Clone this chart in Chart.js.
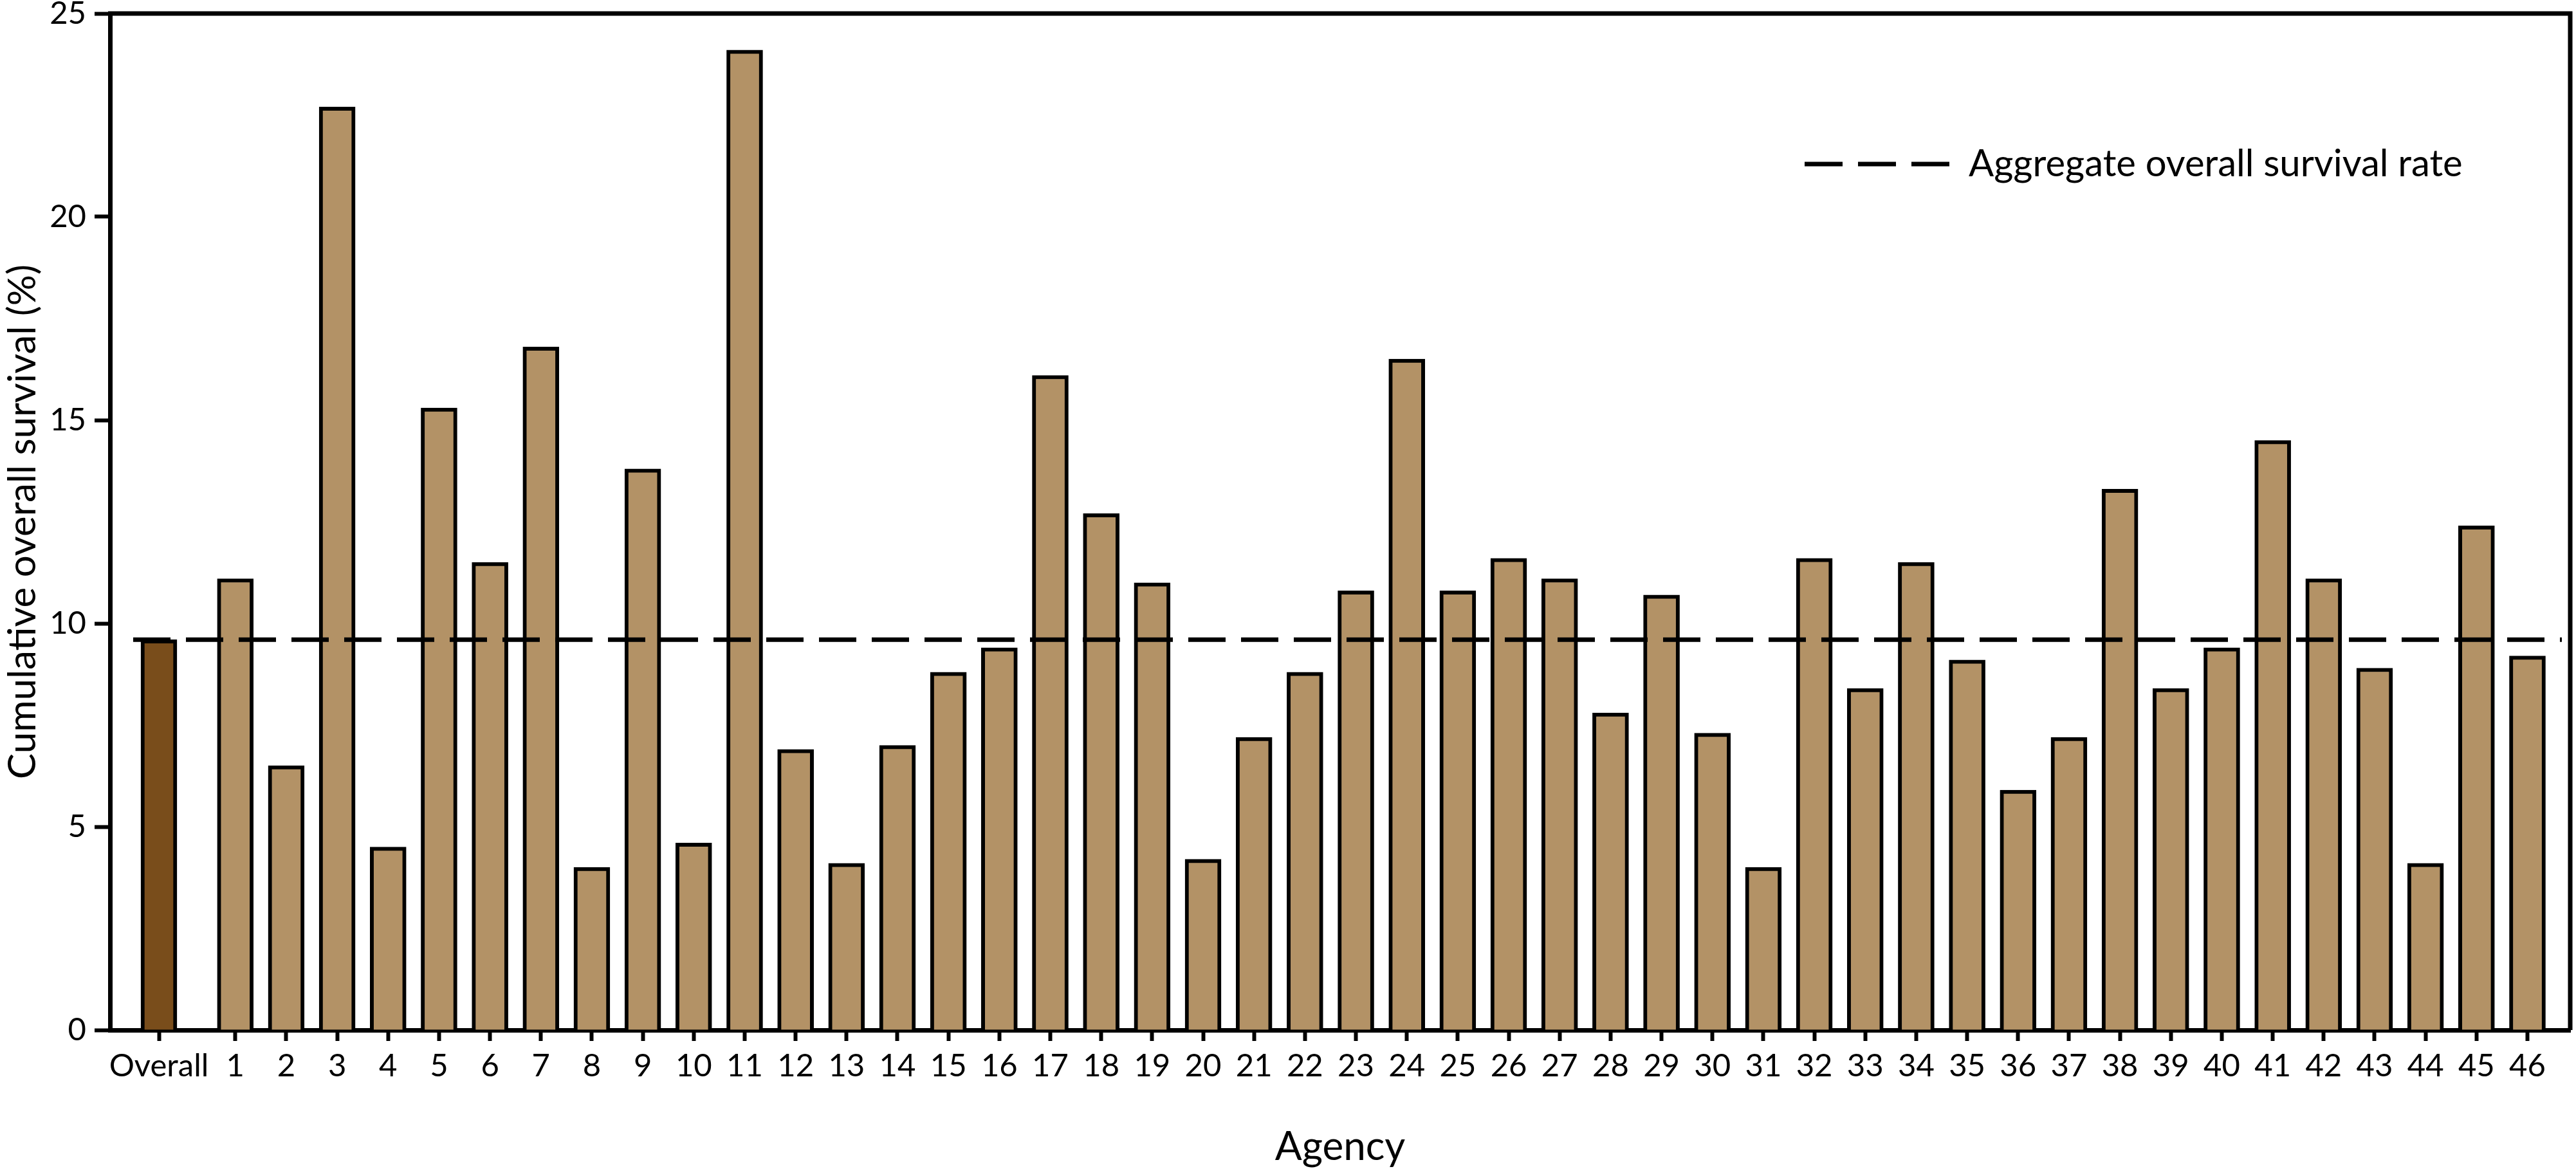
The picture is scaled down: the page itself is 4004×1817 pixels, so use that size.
<!DOCTYPE html>
<html>
<head>
<meta charset="utf-8">
<script src="https://cdn.jsdelivr.net/npm/chart.js@4"></script>
<style>
  html, body { margin: 0; padding: 0; background: #fff; }
  #wrap { width: 4004px; height: 1817px; }
</style>
</head>
<body>
<div id="wrap"><canvas id="chart" width="4004" height="1817"></canvas></div>
<script>
const agencies = ['Overall', '1', '2', '3', '4', '5', '6', '7', '8', '9', '10',
  '11', '12', '13', '14', '15', '16', '17', '18', '19', '20',
  '21', '22', '23', '24', '25', '26', '27', '28', '29', '30',
  '31', '32', '33', '34', '35', '36', '37', '38', '39', '40',
  '41', '42', '43', '44', '45', '46'];
const survival = [9.6, 11.1, 6.5, 22.7, 4.5, 15.3, 11.5, 16.8, 4.0, 13.8, 4.6,
  24.1, 6.9, 4.1, 7.0, 8.8, 9.4, 16.1, 12.7, 11.0, 4.2,
  7.2, 8.8, 10.8, 16.5, 10.8, 11.6, 11.1, 7.8, 10.7, 7.3,
  4.0, 11.6, 8.4, 11.5, 9.1, 5.9, 7.2, 13.3, 8.4, 9.4,
  14.5, 11.1, 8.9, 4.1, 12.4, 9.2];
const aggregateRate = 9.6;
const yTicks = [0, 5, 10, 15, 20, 25];
const legendLabel = 'Aggregate overall survival rate';

const FONT = 'Lato, "Open Sans", sans-serif';
const TAN = '#b39266';
const DARK = '#794d1b';

// the "Overall" bar sits half a slot further left than a regular step
const xPos = agencies.map((a, i) => (i === 0 ? -0.5 : i));

// drop the automatic label padding so the plot box stays where we put it
function noPad(s) {
  s.paddingLeft = 0; s.paddingRight = 0; s.paddingTop = 0; s.paddingBottom = 0;
}

const framePlugin = {
  id: 'frame',
  afterDatasetsDraw(chart) {
    const { ctx, chartArea: a, scales } = chart;
    ctx.save();
    // aggregate dashed line
    const y = scales.y.getPixelForValue(aggregateRate);
    ctx.strokeStyle = '#000';
    ctx.lineWidth = 7;
    ctx.setLineDash([58, 24]);
    ctx.beginPath();
    ctx.moveTo(a.left + 36, y);
    ctx.lineTo(a.right - 13, y);
    ctx.stroke();

    // top and right frame
    ctx.setLineDash([]);
    ctx.lineWidth = 7;
    ctx.beginPath();
    ctx.moveTo(a.left - 3, a.top);
    ctx.lineTo(a.right, a.top);
    ctx.lineTo(a.right, a.bottom);
    ctx.stroke();

    // legend
    const ly = a.top + 234;
    const lx = a.right - 1190;
    ctx.lineWidth = 7;
    ctx.setLineDash([59, 24]);
    ctx.beginPath();
    ctx.moveTo(lx, ly);
    ctx.lineTo(lx + 225, ly);
    ctx.stroke();
    ctx.setLineDash([]);
    ctx.fillStyle = '#000';
    ctx.font = '58px ' + FONT;
    ctx.textBaseline = 'middle';
    ctx.textAlign = 'left';
    ctx.fillText(legendLabel, lx + 255, ly);
    ctx.restore();
  }
};

new Chart(document.getElementById('chart'), {
  type: 'bar',
  data: {
    datasets: [{
      data: survival.map((v, i) => ({ x: xPos[i], y: v })),
      backgroundColor: agencies.map((a, i) => (i === 0 ? DARK : TAN)),
      borderColor: '#000',
      borderWidth: 6,
      barThickness: 56,
      borderSkipped: 'bottom'
    }]
  },
  options: {
    responsive: false,
    animation: false,
    layout: { padding: { top: 21, right: 9, left: 0, bottom: 0 } },
    plugins: { legend: { display: false }, tooltip: { enabled: false } },
    scales: {
      x: {
        type: 'linear',
        offset: false,
        bounds: 'data',
        min: -1.46,
        max: 46.84,
        afterFit(s) { s.height = 216; noPad(s); },
        afterBuildTicks(s) { s.ticks = xPos.map(v => ({ value: v })); },
        grid: { offset: false, drawOnChartArea: false, tickLength: 17, tickWidth: 6, tickColor: '#000' },
        border: { display: true, width: 7, color: '#000' },
        ticks: {
          autoSkip: false,
          maxRotation: 0,
          padding: 10,
          color: '#000',
          font: { family: FONT, size: 49 },
          callback: (v) => agencies[xPos.indexOf(v)]
        },
        title: {
          display: true,
          text: 'Agency',
          color: '#000',
          font: { family: FONT, size: 62, lineHeight: 1.1 },
          padding: 0
        }
      },
      y: {
        min: 0,
        max: 25,
        afterFit(s) { s.width = 171; noPad(s); },
        afterBuildTicks(s) { s.ticks = yTicks.map(v => ({ value: v })); },
        grid: { drawOnChartArea: false, tickLength: 24, tickWidth: 6, tickColor: '#000' },
        border: { display: true, width: 7, color: '#000' },
        ticks: {
          padding: 13,
          color: '#000',
          font: { family: FONT, size: 49 }
        },
        title: {
          display: true,
          text: 'Cumulative overall survival (%)',
          color: '#000',
          font: { family: FONT, size: 60 },
          padding: 0
        }
      }
    }
  },
  plugins: [framePlugin]
});
</script>
</body>
</html>
